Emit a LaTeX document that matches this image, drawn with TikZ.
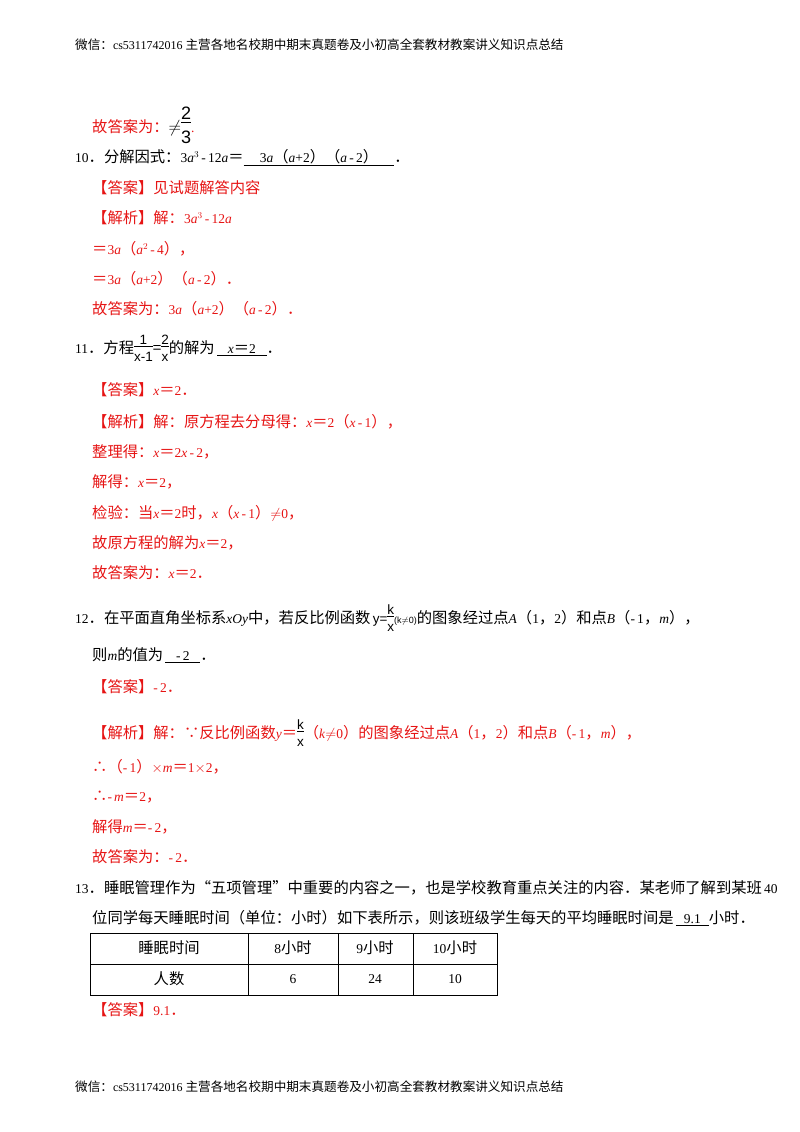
\documentclass[tikz,border=0pt]{standalone}
\usepackage{fontspec}
\setmainfont{Liberation Serif}
\newfontfamily\cjk{Noto Sans CJK SC}
\newfontfamily\sansf{Liberation Sans}
\definecolor{ans}{RGB}{230,20,20}
\newcommand{\zh}[1]{{\cjk\fontsize{15.3}{16}\selectfont #1}}
\newcommand{\zhh}[1]{{\cjk\fontsize{12.6}{14}\selectfont #1}}
\newcommand{\fr}[2]{$\vcenter{\hbox{\sansf\begin{tabular}{@{}c@{}}#1\\[-3pt]\hline\\[-10pt]#2\end{tabular}}}$}
\begin{document}
\begin{tikzpicture}[x=1pt,y=-1pt,
  t/.style={anchor=west,inner sep=0pt,font=\fontsize{13.5}{15}\selectfont},
  r/.style={t,text=ans},
  hd/.style={anchor=west,inner sep=0pt,font=\fontsize{12}{13}\selectfont}]
\useasboundingbox (0,0) rectangle (800,1132);
\node[hd] (h1) at (75,45) {\zhh{微信：}cs5311742016 \zhh{主营各地名校期中期末真题卷及小初高全套教材教案讲义知识点总结}};
\node[r] (a0) at (92,128) {\zh{故答案为：}{\color{black}\fontsize{18}{18}\selectfont$\neq$\fr{2}{3}}.};
\node[t] (q10) at (75,158) {10\zh{．分解因式：}3\textit{a}$^3$\,-\,12\textit{a}\zh{＝}\underline{\hspace{1.2em}3\textit{a}\zh{（}\textit{a}+2\zh{）（}\textit{a}\,-\,2\zh{）}\hspace{1.2em}}\zh{．}};
\node[r] (a10) at (92,188) {\zh{【答案】见试题解答内容}};
\node[r] (b10) at (92,218) {\zh{【解析】解：}3\textit{a}$^3$\,-\,12\textit{a}};
\node[r] (c10) at (92,249) {\zh{＝}3\textit{a}\zh{（}\textit{a}$^2$\,-\,4\zh{），}};
\node[r] (d10) at (92,279) {\zh{＝}3\textit{a}\zh{（}\textit{a}+2\zh{）（}\textit{a}\,-\,2\zh{）．}};
\node[r] (e10) at (92,309) {\zh{故答案为：}3\textit{a}\zh{（}\textit{a}+2\zh{）（}\textit{a}\,-\,2\zh{）．}};
\node[t] (q11) at (75,350) {11\zh{．方程}\fr{\,1\,}{x-1}\zh{=}\fr{2}{x}\zh{的解为}\,\underline{\hspace{0.8em}\textit{x}\zh{＝}2\hspace{0.8em}}\zh{．}};
\node[r] (a11) at (92,390) {\zh{【答案】}\textit{x}\zh{＝}2\zh{．}};
\node[r] (b11) at (92,422) {\zh{【解析】解：原方程去分母得：}\textit{x}\zh{＝}2\zh{（}\textit{x}\,-\,1\zh{），}};
\node[r] (c11) at (92,452) {\zh{整理得：}\textit{x}\zh{＝}2\textit{x}\,-\,2\zh{，}};
\node[r] (d11) at (92,482) {\zh{解得：}\textit{x}\zh{＝}2\zh{，}};
\node[r] (e11) at (92,513) {\zh{检验：当}\textit{x}\zh{＝}2\zh{时，}\textit{x}\zh{（}\textit{x}\,-\,1\zh{）}$\neq$0\zh{，}};
\node[r] (f11) at (92,543) {\zh{故原方程的解为}\textit{x}\zh{＝}2\zh{，}};
\node[r] (g11) at (92,573) {\zh{故答案为：}\textit{x}\zh{＝}2\zh{．}};
\node[t] (q12) at (75,620) {12\zh{．在平面直角坐标系}\textit{xOy}\zh{中，若反比例函数}\,{\sansf y=}\fr{k}{x}{\sansf\small (k$\neq$0)}\zh{的图象经过点}\textit{A}\zh{（}1\zh{，}2\zh{）和点}\textit{B}\zh{（}-\,1\zh{，}\textit{m}\zh{），}};
\node[t] (q12b) at (92,655) {\zh{则}\textit{m}\zh{的值为}\,\underline{\hspace{0.8em}-\,2\hspace{0.8em}}\zh{．}};
\node[r] (a12) at (92,687) {\zh{【答案】}-\,2\zh{．}};
\node[r] (b12) at (92,735) {\zh{【解析】解：}\zh{∵}\zh{反比例函数}\textit{y}\zh{＝}{\color{black}\fr{k}{x}}\zh{（}\textit{k}$\neq$0\zh{）的图象经过点}\textit{A}\zh{（}1\zh{，}2\zh{）和点}\textit{B}\zh{（}-\,1\zh{，}\textit{m}\zh{），}};
\node[r] (c12) at (92,767) {\zh{∴（}-\,1\zh{）}$\times$\textit{m}\zh{＝}1$\times$2\zh{，}};
\node[r] (d12) at (92,797) {\zh{∴}-\,\textit{m}\zh{＝}2\zh{，}};
\node[r] (e12) at (92,827) {\zh{解得}\textit{m}\zh{＝}-\,2\zh{，}};
\node[r] (f12) at (92,857) {\zh{故答案为：}-\,2\zh{．}};
\node[t] (q13) at (75,888) {13\zh{．睡眠管理作为“五项管理”中重要的内容之一，也是学校教育重点关注的内容．某老师了解到某班}\,40};
\node[t] (q13b) at (92,918) {\zh{位同学每天睡眠时间（单位：小时）如下表所示，则该班级学生每天的平均睡眠时间是}\,\underline{\hspace{0.6em}9.1\hspace{0.6em}}\zh{小时．}};
\draw[line width=0.7pt] (90,933) rectangle (497,995);
\draw[line width=0.7pt] (90,964) -- (497,964);
\foreach \xx in {248,338,413} \draw[line width=0.7pt] (\xx,933) -- (\xx,995);
\node[t,anchor=center] (c1) at (169,948) {\zh{睡眠时间}};
\node[t,anchor=center] (c2) at (293,948) {8\zh{小时}};
\node[t,anchor=center] (c3) at (375,948) {9\zh{小时}};
\node[t,anchor=center] (c4) at (455,948) {10\zh{小时}};
\node[t,anchor=center] (d1) at (169,979) {\zh{人数}};
\node[t,anchor=center] (d2) at (293,979) {6};
\node[t,anchor=center] (d3) at (375,979) {24};
\node[t,anchor=center] (d4) at (455,979) {10};
\node[r] (a13) at (92,1010) {\zh{【答案】}9.1\zh{．}};
\node[hd] (h2) at (75,1087) {\zhh{微信：}cs5311742016 \zhh{主营各地名校期中期末真题卷及小初高全套教材教案讲义知识点总结}};
\end{tikzpicture}
\end{document}
